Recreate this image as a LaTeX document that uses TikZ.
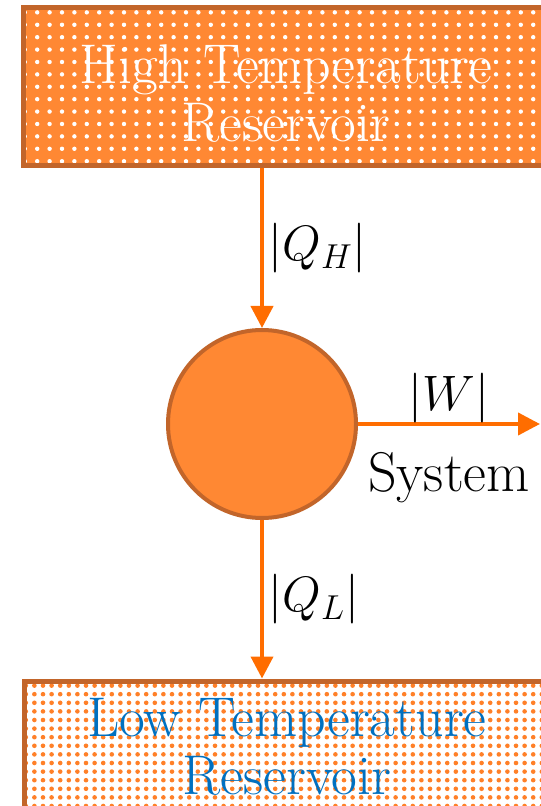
\documentclass[tikz,border=0pt]{standalone}
\usepackage{amsmath,amssymb}
\usepackage{xcolor}
\usepackage{tikz}
\usetikzlibrary{arrows.meta,positioning,patterns.meta}
\definecolor{hotfill}{RGB}{255,136,51}
\definecolor{edgebrown}{RGB}{194,101,42}
\definecolor{flowrange}{RGB}{255,109,0}
\definecolor{colddots}{RGB}{255,128,40}
\definecolor{coldtext}{RGB}{0,112,192}

\begin{document}
\begin{tikzpicture}[
      x=0.5pt, y=-0.5pt,
      boxfont/.style={font=\fontsize{28}{29}\selectfont},
      reservoir/.style={rectangle, draw=edgebrown, line width=2.5pt,
                    minimum width=263pt, align=center, boxfont},
      flow/.style={-{Triangle[length=11pt,width=11pt]}, line width=2pt, color=flowrange},
      flowlabel/.style={font=\fontsize{24}{28}\selectfont, text=black}
    ]
      \useasboundingbox (0,0) rectangle (540,806);
      %% reservoirs
      \node[reservoir, minimum height=79pt, preaction={fill=hotfill},
            pattern={Dots[distance=6.2pt,radius=1.1pt]}, pattern color=white,
            text=white] (hot) at (286,87)
          {\rule{0pt}{26pt}High Temperature\\Reservoir};
      \node[reservoir, minimum height=66pt, preaction={fill=white},
            pattern={Dots[distance=4.3pt,radius=1.15pt]}, pattern color=colddots,
            text=coldtext] (cold) at (287,747)
          {Low Temperature\\Reservoir};
      %% system
      \node[circle, draw=edgebrown, fill=hotfill, line width=2pt,
            minimum size=94pt, inner sep=0pt] (sys) at (262,424) {};
      \coordinate (out) at (540,424);
      %% heat and work flows
      \draw[flow] (sys |- hot.south) -- (sys.north)
          node[midway, right=-1pt, flowlabel] {$|Q_H|$};
      \draw[flow] (sys.south) -- (sys |- cold.north)
          node[midway, right=-1pt, flowlabel] {$|Q_L|$};
      \draw[flow] (sys.east) -- (out)
          node[midway, above=-4pt, flowlabel] {$|W|$}
          node[midway, below=10pt, flowlabel, font=\fontsize{28}{30}\selectfont] {System};
    \end{tikzpicture}
\end{document}
